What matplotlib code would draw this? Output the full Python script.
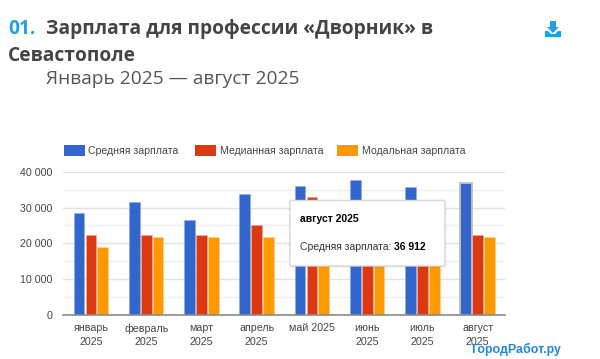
import matplotlib
matplotlib.use('Agg')
from matplotlib import pyplot as plt
from matplotlib.patches import FancyBboxPatch, Rectangle, Polygon
import numpy as np

months = ['январь\n2025', 'февраль\n2025', 'март\n2025', 'апрель\n2025',
          'май 2025', 'июнь\n2025', 'июль\n2025', 'август\n2025']
avg_salary = [28400, 31600, 26500, 33900, 36000, 37600, 35800, 36912]
median_salary = [22300, 22300, 22300, 25100, 32900, 22300, 22300, 22400]
modal_salary = [18900, 21800, 21800, 21800, 21800, 21800, 21800, 21800]
y_ticks = [0, 10000, 20000, 30000, 40000]
y_labels = ['0', '10 000', '20 000', '30 000', '40 000']
minor_ticks = [5000, 15000, 25000, 35000]

BLUE = '#3366cc'
RED = '#dc3912'
ORANGE = '#ff9900'
TEXT = '#444444'
W, H = 600, 359

plt.rcParams['font.family'] = ['Liberation Sans', 'DejaVu Sans']
fig = plt.figure(figsize=(W / 100, H / 100), dpi=100)

ax = fig.add_axes([63.3 / W, 1 - 315 / H, 442 / W, 143.3 / H])
x = np.arange(len(months))
bar_w = 0.195
gap = 0.215
ax.bar(x - gap, avg_salary, bar_w, color=BLUE, label='Средняя зарплата', zorder=3, edgecolor='#8fa8e4', linewidth=0.4)
ax.bar(x, median_salary, bar_w, color=RED, label='Медианная зарплата', zorder=3, edgecolor='#f0a898', linewidth=0.4)
ax.bar(x + gap, modal_salary, bar_w, color=ORANGE, label='Модальная зарплата', zorder=3, edgecolor='#ffd090', linewidth=0.4)
# hovered bar
ax.bar(x[7] - gap, avg_salary[7], bar_w + 0.02, color='none', edgecolor='#bdbdbd', linewidth=1.3, zorder=4)

ax.set_xlim(-0.5, 7.5)
ax.set_ylim(0, 40000)
ax.set_yticks(y_ticks)
ax.set_yticklabels(y_labels)
ax.set_yticks(minor_ticks, minor=True)
ax.set_xticks(x)
ax.set_xticklabels(months, linespacing=1.42)
ax.tick_params(axis='both', which='both', length=0, labelsize=7.7, labelcolor=TEXT)
ax.tick_params(axis='x', pad=6)
ax.tick_params(axis='y', pad=8)
ax.grid(axis='y', which='major', color='#e2e2e2', linewidth=1, zorder=0)
ax.grid(axis='y', which='minor', color='#efefef', linewidth=1, zorder=0)
for name in ['top', 'left', 'right']:
    ax.spines[name].set_visible(False)
ax.spines['bottom'].set_color('#8a8a8a')
ax.spines['bottom'].set_linewidth(1.2)
ax.spines['bottom'].set_zorder(5)

# overlay in pixel coordinates for the page parts around the chart
page = fig.add_axes([0, 0, 1, 1], zorder=10)
page.set_xlim(0, W)
page.set_ylim(H, 0)
page.axis('off')

head = ['Open Sans', 'DejaVu Sans']
page.text(8, 29, '01.', color='#1e9fe8', fontsize=13.8, fontweight='bold', family=head, va='center')
page.text(46, 29, 'Зарплата для профессии «Дворник» в', color='#444444', fontsize=13.8, fontweight='bold', family=head, va='center')
page.text(8, 56, 'Севастополе', color='#444444', fontsize=13.8, fontweight='bold', family=head, va='center')
page.text(46, 79, 'Январь 2025 — август 2025', color='#555555', fontsize=13.8, family=head, va='center')

# download icon
page.add_patch(Polygon([(550, 21), (556, 21), (556, 27), (559, 27), (553, 33), (547, 27), (550, 27)], color='#1e9fe8', lw=0))
page.add_patch(Polygon([(545, 31), (548, 31), (551, 34), (555, 34), (558, 31), (561, 31), (561, 37), (545, 37)], color='#1e9fe8', lw=0))

# legend
legend_items = [(64, BLUE, 'Средняя зарплата'), (195, RED, 'Медианная зарплата'), (337.5, ORANGE, 'Модальная зарплата')]
for lx, col, name in legend_items:
    page.add_patch(Rectangle((lx - 0.5, 145), 21, 11, color=col, lw=0))
    page.text(lx + 24.5, 150.5, name, color=TEXT, fontsize=7.6, va='center')

# tooltip
for off, alpha in [(2.5, 0.04), (1.5, 0.06)]:
    page.add_patch(FancyBboxPatch((290 - off + 1, 200.5 - off + 1.5), 155 + 2 * off - 2, 65.5 + 2 * off - 2,
                                  boxstyle='round,pad=0,rounding_size=3', fc='black', ec='none', alpha=alpha))
page.add_patch(FancyBboxPatch((290, 200.5), 155, 65.5, boxstyle='round,pad=0,rounding_size=2',
                              fc='white', ec='#d8d8d8', lw=1))
page.text(299.5, 219.5, 'август 2025', color='black', fontsize=7.5, fontweight='bold', va='center')
page.text(299.5, 247.5, 'Средняя зарплата:', color='#333333', fontsize=7.5, va='center')
page.text(394.5, 247.5, '36 912', color='black', fontsize=7.5, fontweight='bold', va='center')

# watermark
page.text(471.5, 349.5, 'ГородРабот.ру', color='#1e88d8', fontsize=8.9, fontweight='bold', va='center')

fig.savefig('out.png', dpi=100)
